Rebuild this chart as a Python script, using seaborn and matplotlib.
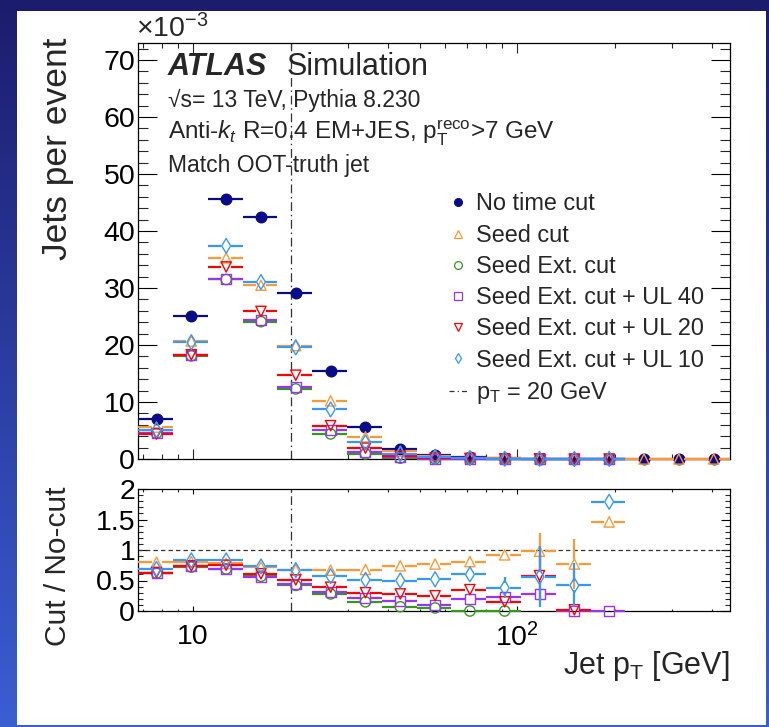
import numpy as np
import pandas as pd
import matplotlib
matplotlib.use("Agg")
import matplotlib.pyplot as plt
import seaborn as sns
from matplotlib.lines import Line2D
from matplotlib.patches import Rectangle
from matplotlib.ticker import FixedLocator, NullFormatter, MultipleLocator

nan = np.nan

# ---------------- data ----------------
bin_edges = [6.76, 8.66, 11.09, 14.21, 18.19, 23.30, 29.85, 38.23, 48.96,
             62.70, 80.31, 102.8, 131.7, 168.7, 216.0, 276.7, 354.4, 454.0]

series_names = ["No time cut", "Seed cut", "Seed Ext. cut",
                "Seed Ext. cut + UL 40", "Seed Ext. cut + UL 20",
                "Seed Ext. cut + UL 10"]

# Jets per event (units of 1e-3)
jets_no_cut = [7.07, 25.1, 45.6, 42.5, 29.2, 15.4, 5.7, 1.8, 0.7, 0.3, 0.12, 0.05, 0.02, 0.01, 0.0, 0.0, 0.0]
jets_seed   = [5.6, 20.7, 35.3, 30.5, 19.9, 10.2, 3.9, 1.35, 0.55, 0.25, 0.11, 0.05, 0.015, 0.015, 0.0, 0.0, 0.0]
jets_ext    = [4.5, 18.1, 31.5, 24.1, 12.3, 4.4, 0.9, 0.15, 0.04, 0.0, 0.0, 0.0, 0.0, 0.0, nan, nan, nan]
jets_ul40   = [4.6, 18.2, 31.6, 24.4, 12.7, 5.1, 1.3, 0.3, 0.07, 0.06, 0.03, 0.015, 0.0, 0.0, nan, nan, nan]
jets_ul20   = [4.4, 18.3, 33.7, 25.9, 14.7, 5.85, 1.9, 0.5, 0.18, 0.11, 0.02, 0.03, 0.0, 0.0, nan, nan, nan]
jets_ul10   = [5.1, 20.5, 37.4, 31.05, 19.6, 8.7, 2.9, 0.9, 0.37, 0.18, 0.05, 0.03, 0.01, 0.02, nan, nan, nan]

# Cut / No-cut ratios
ratio_seed = [0.80, 0.81, 0.78, 0.72, 0.68, 0.67, 0.68, 0.74, 0.77, 0.81, 0.92, 0.98, 0.77, 1.46, nan, nan, nan]
ratio_ext  = [0.62, 0.72, 0.69, 0.57, 0.42, 0.28, 0.15, 0.07, 0.05, 0.0, 0.0, nan, nan, nan, nan, nan, nan]
ratio_ul40 = [0.63, 0.73, 0.69, 0.55, 0.44, 0.31, 0.21, 0.16, 0.10, 0.19, 0.23, 0.28, 0.0, 0.0, nan, nan, nan]
ratio_ul20 = [0.63, 0.74, 0.75, 0.61, 0.51, 0.39, 0.30, 0.28, 0.25, 0.35, 0.15, 0.58, 0.02, nan, nan, nan, nan]
ratio_ul10 = [0.69, 0.83, 0.83, 0.73, 0.67, 0.57, 0.51, 0.50, 0.52, 0.60, 0.38, 0.56, 0.42, 1.79, nan, nan, nan]

err_seed = [0, 0, 0, 0, 0, 0, 0, 0, 0, 0, 0.04, 0.30, 0.41, 0, 0, 0, 0]
err_ext  = [0] * 17
err_ul40 = [0, 0, 0, 0, 0, 0, 0, 0, 0, 0, 0, 0.10, 0, 0, 0, 0, 0]
err_ul20 = [0, 0, 0, 0, 0, 0, 0, 0, 0, 0, 0.05, 0.40, 0, 0, 0, 0, 0]
err_ul10 = [0, 0, 0, 0, 0, 0, 0, 0, 0, 0.06, 0.17, 0.50, 0.36, 0, 0, 0, 0]

pt_cut = 20.0

# ---------------- style ----------------
sns.set_theme(style="ticks")
plt.rcParams["font.family"] = ["Liberation Sans", "DejaVu Sans"]
plt.rcParams["mathtext.fontset"] = "custom"
plt.rcParams["mathtext.rm"] = "Liberation Sans"
plt.rcParams["mathtext.it"] = "Liberation Sans:italic"
plt.rcParams["mathtext.bf"] = "Liberation Sans:bold"
plt.rcParams["axes.linewidth"] = 0.9

colors = ["#0a0a8c", "#ff9933", "#339919", "#9933ff", "#ff0000", "#3399ff"]
markers = ["o", "^", "o", "s", "v", "d"]
filled = [True, False, False, False, False, False]
msizes = [7.6, 7.4, 7.4, 7.2, 7.4, 7.6]

W, H = 769, 727
fig = plt.figure(figsize=(W / 100, H / 100), dpi=100)

# background (slide frame)
bg = fig.add_axes([0, 0, 1, 1], zorder=-10)
grad = np.linspace(0, 1, 256)[:, None, None]
top_c = np.array([0.11, 0.11, 0.43])
bot_c = np.array([0.23, 0.37, 0.82])
bg.imshow(top_c + (bot_c - top_c) * grad * np.ones((1, 2, 1)), aspect="auto",
          extent=[0, 1, 0, 1], origin="upper")
bg.add_patch(Rectangle((17 / W, 2 / H), (766 - 17) / W, (725 - 11) / H,
                       facecolor="white", edgecolor="none"))
bg.set_xlim(0, 1)
bg.set_ylim(0, 1)
bg.axis("off")

ax1 = fig.add_axes([138 / W, 1 - 459 / H, (730 - 138) / W, (459 - 43) / H])
ax2 = fig.add_axes([138 / W, 1 - 611 / H, (730 - 138) / W, (611 - 489) / H])

lo = np.array(bin_edges[:-1])
hi = np.array(bin_edges[1:])
centers = (lo + hi) / 2
GAP = 10 ** (5.0 / 324)  # marker half-width gap in log-x


def draw(ax, y, color, marker, fill, ms, z, yerr=None, ygap=0.0):
    y = np.asarray(y, float)
    ok = ~np.isnan(y)
    c = centers[ok]
    if fill:
        ax.hlines(y[ok], lo[ok], hi[ok], color=color, lw=1.6, zorder=z, clip_on=False)
    else:
        ax.hlines(y[ok], lo[ok], c / GAP, color=color, lw=1.6, zorder=z, clip_on=False)
        ax.hlines(y[ok], c * GAP, hi[ok], color=color, lw=1.6, zorder=z, clip_on=False)
    if yerr is not None:
        e = np.asarray(yerr, float)
        m = ok & (e > ygap)
        ax.vlines(centers[m], y[m] - e[m], y[m] - ygap, color=color, lw=1.6, zorder=z)
        ax.vlines(centers[m], y[m] + ygap, y[m] + e[m], color=color, lw=1.6, zorder=z)
    df = pd.DataFrame({"x": c, "y": y[ok]})
    sns.scatterplot(data=df, x="x", y="y", ax=ax, marker=marker, s=ms ** 2,
                    color=color, facecolors=color if fill else "none",
                    edgecolor=color, linewidth=1.0, zorder=z + 0.5,
                    clip_on=False, legend=False)


main_series = [jets_no_cut, jets_seed, jets_ext, jets_ul40, jets_ul20, jets_ul10]
for i, ys in enumerate(main_series):
    draw(ax1, ys, colors[i], markers[i], filled[i], msizes[i], 3 + i)

ratio_series = [ratio_seed, ratio_ext, ratio_ul40, ratio_ul20, ratio_ul10]
ratio_errs = [err_seed, err_ext, err_ul40, err_ul20, err_ul10]
for j, (ys, es) in enumerate(zip(ratio_series, ratio_errs)):
    i = j + 1
    draw(ax2, ys, colors[i], markers[i], filled[i], msizes[i], 3 + i, yerr=es, ygap=0.08)

# reference lines
dashdot = (0, (7, 3, 1.2, 3))
for ax in (ax1, ax2):
    ax.axvline(pt_cut, color="#333333", lw=0.9, ls=dashdot, zorder=2)
ax2.axhline(1.0, color="#333333", lw=0.9, ls=(0, (3.5, 2.5)), zorder=2)

# axes formatting
for ax in (ax1, ax2):
    ax.set_xscale("log")
    ax.set_xlim(bin_edges[0], bin_edges[-1])
    ax.set_facecolor("white")
    ax.set_xlabel("")
    ax.set_ylabel("")
    ax.xaxis.set_major_locator(FixedLocator([10, 100]))
    ax.xaxis.set_minor_locator(FixedLocator([7, 8, 9, 20, 30, 40, 50, 60, 70, 80, 90, 200, 300, 400]))
    ax.xaxis.set_minor_formatter(NullFormatter())
    for s in ax.spines.values():
        s.set_color("black")
        s.set_linewidth(0.9)

ax1.set_ylim(0, 73)
ax1.yaxis.set_major_locator(MultipleLocator(10))
ax1.yaxis.set_minor_locator(MultipleLocator(2))
ax1.set_xticklabels([])
ax1.tick_params(axis="x", which="major", direction="in", length=7.2, width=0.8, top=True, bottom=True)
ax1.tick_params(axis="x", which="minor", direction="in", length=3.6, width=0.8, top=True, bottom=True)
ax1.tick_params(axis="y", which="major", direction="in", length=13.7, width=0.8, left=True, right=True,
                labelsize=20.5, pad=2, colors="black")
ax1.tick_params(axis="y", which="minor", direction="in", length=7.2, width=0.8, left=True, right=True)

ax2.set_ylim(0, 2)
ax2.set_yticks([0, 0.5, 1, 1.5, 2])
ax2.set_yticklabels(["0", "0.5", "1", "1.5", "2"])
ax2.yaxis.set_minor_locator(MultipleLocator(0.1))
ax2.set_xticklabels(["10", r"$10^{2}$"])
ax2.tick_params(axis="x", which="major", direction="in", length=3.6, width=0.8, top=True, bottom=True,
                labelsize=20.5, pad=9, colors="black")
ax2.tick_params(axis="x", which="minor", direction="in", length=1.8, width=0.8, top=True, bottom=True)
ax2.tick_params(axis="y", which="major", direction="in", length=6.8, width=0.8, left=True, right=True,
                labelsize=20.5, pad=2, colors="black")
ax2.tick_params(axis="y", which="minor", direction="in", length=3.6, width=0.8, left=True, right=True)

# axis titles
fig.text(58 / W, 1 - 38 / H, "Jets per event", rotation=90, ha="center", va="top", fontsize=25.5)
fig.text(58 / W, 1 - 486 / H, "Cut / No-cut", rotation=90, ha="center", va="top", fontsize=21.5)
fig.text(730 / W, 1 - 674 / H, r"Jet p$_\mathrm{T}$ [GeV]", ha="right", va="baseline", fontsize=22)
fig.text(136 / W, 1 - 37 / H, r"$\times10^{-3}$", ha="left", va="baseline", fontsize=20.5)

# ATLAS labels
fig.text(168 / W, 1 - 75 / H, "ATLAS", fontsize=22, fontweight="bold", fontstyle="italic", va="baseline")
fig.text(287 / W, 1 - 75 / H, "Simulation", fontsize=22, va="baseline")
fig.text(168 / W, 1 - 107 / H, "\u221as= 13 TeV, Pythia 8.230", fontsize=16.5, va="baseline")
fig.text(168 / W, 1 - 139 / H, r"Anti-$k_{t}$ R=0.4 EM+JES, p$_\mathrm{T}^\mathrm{reco}$>7 GeV",
         fontsize=17.5, va="baseline")
fig.text(168 / W, 1 - 172 / H, "Match OOT-truth jet", fontsize=16.5, va="baseline")

# legend
handles = []
for i in range(6):
    handles.append(Line2D([], [], linestyle="none", marker=markers[i], markersize=5.6,
                          markerfacecolor=colors[i] if filled[i] else "none",
                          markeredgecolor=colors[i], markeredgewidth=0.9))
handles.append(Line2D([], [], color="#333333", lw=0.9, ls=(0, (4, 2.5, 1, 2.5))))
labels = series_names + [r"p$_\mathrm{T}$ = 20 GeV"]
leg = ax1.legend(handles, labels, loc="upper left", bbox_to_anchor=((449 - 138) / 592, (459 - 192.5) / 416),
                 frameon=False, fontsize=16.9, handlelength=0.8, handletextpad=0.34,
                 labelspacing=0.35, borderpad=0, borderaxespad=0)
leg.set_zorder(20)

fig.savefig("out.png", dpi=100)
